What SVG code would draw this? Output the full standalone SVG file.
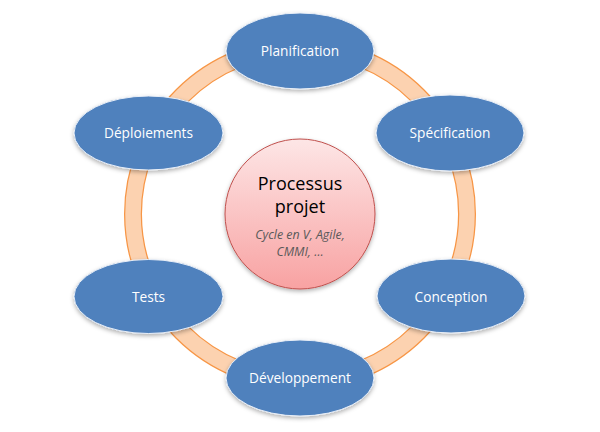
<svg xmlns="http://www.w3.org/2000/svg" width="600" height="432" viewBox="0 0 600 432">
  <style>
    .step ellipse { fill: #4f81bd; stroke: #e8eef7; stroke-width: 1; filter: url(#shadow); }
    .step text { fill: #ffffff; font-family: "Open Sans", "Noto Sans", sans-serif; font-size: 13.7px; text-anchor: middle; }
    .core text { font-family: "Open Sans", "Noto Sans", sans-serif; text-anchor: middle; }
    .title { fill: #000000; font-size: 18px; }
    .sub { fill: #595959; font-size: 12.4px; font-style: italic; }
  </style>
  <defs>
    <filter id="shadow" x="-20%" y="-20%" width="140%" height="150%">
      <feDropShadow dx="0" dy="2" stdDeviation="2" flood-color="#000000" flood-opacity="0.3"/>
    </filter>
    <linearGradient id="pink" x1="0" y1="0" x2="0" y2="1">
      <stop offset="0" stop-color="#fde6e6"/>
      <stop offset="1" stop-color="#f8a2a2"/>
    </linearGradient>
  </defs>

  <rect width="600" height="432" fill="#ffffff"/>

  <!-- ring joining the steps of the cycle -->
  <g id="connectors">
    <circle cx="300" cy="214" r="167" fill="none" stroke="#f79646" stroke-width="18"/>
    <circle cx="300" cy="214" r="167" fill="none" stroke="#fcd2b0" stroke-width="15.5"/>
  </g>

  <!-- central node -->
  <g id="core" class="core">
    <circle cx="300" cy="214" r="75" fill="url(#pink)" stroke="#c0504d" stroke-width="1" filter="url(#shadow)"/>
    <text class="title" x="300" y="190">Processus</text>
    <text class="title" x="300" y="213">projet</text>
    <text class="sub" x="300" y="239">Cycle en V, Agile,</text>
    <text class="sub" x="300" y="256">CMMI, …</text>
  </g>

  <g id="planification" class="step">
    <ellipse cx="300" cy="51" rx="74" ry="38"/>
    <text x="300" y="56">Planification</text>
  </g>
  <g id="specification" class="step">
    <ellipse cx="450" cy="133" rx="74" ry="38"/>
    <text x="450" y="138">Spécification</text>
  </g>
  <g id="conception" class="step">
    <ellipse cx="451" cy="296" rx="74" ry="37"/>
    <text x="451" y="302">Conception</text>
  </g>
  <g id="developpement" class="step">
    <ellipse cx="300" cy="378" rx="74" ry="38"/>
    <text x="300" y="383">Développement</text>
  </g>
  <g id="tests" class="step">
    <ellipse cx="148.5" cy="296.5" rx="74.5" ry="37"/>
    <text x="148.5" y="302">Tests</text>
  </g>
  <g id="deploiements" class="step">
    <ellipse cx="148.5" cy="133" rx="74.5" ry="37"/>
    <text x="148.5" y="138">Déploiements</text>
  </g>
</svg>
